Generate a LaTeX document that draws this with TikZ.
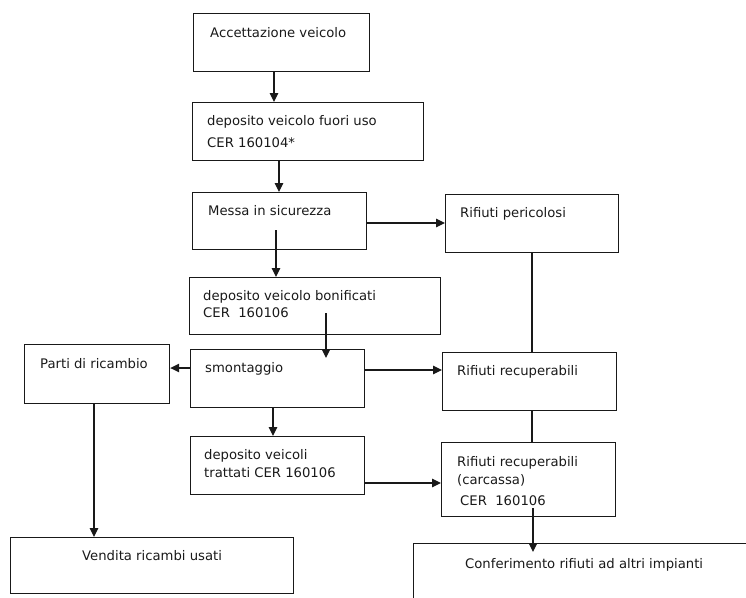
\documentclass[tikz,border=0pt]{standalone}
\usepackage{fontspec}
\setmainfont{DejaVu Sans}
\usetikzlibrary{arrows.meta,calc}
\begin{document}
\begin{tikzpicture}[x=1pt,y=-1pt,
  box/.style={draw=black!90,line width=1.2pt,inner sep=0pt,anchor=north west},
  txt/.style={anchor=base west,inner sep=0pt,font=\fontsize{13.2}{15}\selectfont,text=black!90},
  conn/.style={draw=black!90,line width=1.1pt},
  arr/.style={conn,-{Triangle[length=9pt,width=8.5pt]}}]
\useasboundingbox (0,0) rectangle (746,597);
\clip (0,0) rectangle (746,597);
% boxes
\node[box,minimum width=176pt,minimum height=58pt] (b1) at (193,13) {};
\node[box,minimum width=231pt,minimum height=58pt] (b2) at (192,102) {};
\node[box,minimum width=174pt,minimum height=57pt] (b3) at (192,192) {};
\node[box,minimum width=173pt,minimum height=58pt] (b4) at (445,194) {};
\node[box,minimum width=251pt,minimum height=57pt] (b5) at (189,277) {};
\node[box,minimum width=174pt,minimum height=58pt] (b6) at (190,349) {};
\node[box,minimum width=145pt,minimum height=59pt] (b7) at (24,344) {};
\node[box,minimum width=174pt,minimum height=58pt] (b8) at (442,352) {};
\node[box,minimum width=174pt,minimum height=74pt] (b9) at (441,442) {};
\node[box,minimum width=174pt,minimum height=58pt] (b12) at (190,436) {};
\node[box,minimum width=283pt,minimum height=56pt] (b11) at (10,537) {};
\node[box,minimum width=400pt,minimum height=100pt] (b10) at (413,543) {};
% texts
\node[txt] (t1) at (210,37) {Accettazione veicolo};
\node[txt] (t2a) at (207,125) {deposito veicolo fuori uso};
\node[txt] (t2b) at (207,147) {CER 160104*};
\node[txt] (t3) at (208,215) {Messa in sicurezza};
\node[txt] (t4) at (460,217) {Rifiuti pericolosi};
\node[txt] (t5a) at (203,300) {deposito veicolo bonificati};
\node[txt] (t5b) at (203,317) {CER\ \ 160106};
\node[txt] (t6) at (205,372) {smontaggio};
\node[txt] (t7) at (40,368) {Parti di ricambio};
\node[txt] (t8) at (457,375) {Rifiuti recuperabili};
\node[txt] (t9a) at (457,466) {Rifiuti recuperabili};
\node[txt] (t9b) at (457,484) {(carcassa)};
\node[txt] (t9c) at (460,505) {CER\ \ 160106};
\node[txt] (t12a) at (204,459) {deposito veicoli};
\node[txt] (t12b) at (204,477) {trattati CER 160106};
\node[txt] (t11) at (82,560) {Vendita ricambi usati};
\node[txt] (t10) at (465,568) {Conferimento rifiuti ad altri impianti};
% connectors
\draw[arr] ($(b1.south west)+(81,0)$) -- ($(b2.north west)+(82,0)$);
\draw[arr] ($(b2.south west)+(87,0)$) -- ($(b3.north west)+(87,0)$);
\draw[arr] ($(b3.north east)+(0,31)$) -- ($(b4.north west)+(0,29)$);
\draw[arr] ($(b3.north west)+(84,38)$) -- ($(b5.north west)+(87,0)$);
\draw[arr] ($(b5.north west)+(137,36)$) -- ($(b6.north west)+(136,9)$);
\draw[arr] ($(b6.north west)+(0,19)$) -- ($(b7.north east)+(0,24)$);
\draw[arr] ($(b6.north east)+(0,21)$) -- ($(b8.north west)+(0,18)$);
\draw[conn] ($(b4.south west)+(87,0)$) -- ($(b8.north west)+(90,0)$);
\draw[conn] ($(b8.south west)+(90,0)$) -- ($(b9.north west)+(91,0)$);
\draw[arr] ($(b6.south west)+(83,0)$) -- ($(b12.north west)+(83,0)$);
\draw[arr] ($(b12.north east)+(0,47)$) -- ($(b9.north west)+(0,41)$);
\draw[arr] ($(b7.south west)+(70,0)$) -- ($(b11.north west)+(84,0)$);
\draw[arr] ($(b9.north west)+(92,66)$) -- ($(b10.north west)+(120,9)$);
\end{tikzpicture}
\end{document}
